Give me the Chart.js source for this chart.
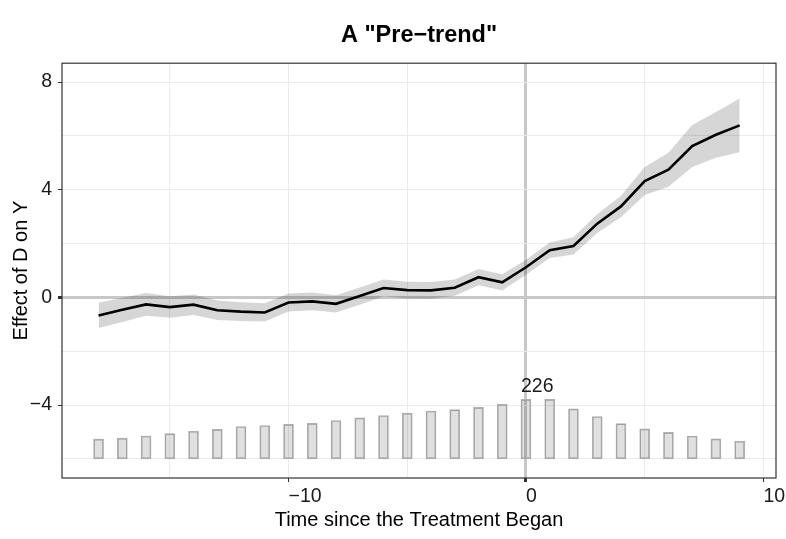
<!DOCTYPE html>
<html lang="en">
<head>
    <meta charset="UTF-8">
    <title>A "Pre-trend"</title>
    <script src="https://cdn.jsdelivr.net/npm/chart.js"></script>
    <style>
        body { margin: 0; background: #ffffff; }
        .wrap { width: 786px; height: 539px; }
    </style>
</head>
<body>
    <div class="wrap"><canvas id="trendChart" width="786" height="539"></canvas></div>
    <script>
    // time relative to treatment start
    const times = [-18, -17, -16, -15, -14, -13, -12, -11, -10, -9, -8, -7, -6, -5, -4, -3, -2, -1, 0, 1, 2, 3, 4, 5, 6, 7, 8, 9];
    // estimated effect of D on Y
    const estimate = [-0.67, -0.46, -0.26, -0.36, -0.27, -0.48, -0.53, -0.56, -0.19, -0.15, -0.24, 0.05, 0.35, 0.27, 0.26, 0.36, 0.75, 0.56, 1.12, 1.75, 1.91, 2.74, 3.38, 4.32, 4.74, 5.62, 6.04, 6.39];
    const ciLower = [-1.14, -0.91, -0.68, -0.76, -0.65, -0.84, -0.88, -0.90, -0.52, -0.48, -0.56, -0.27, 0.04, -0.04, -0.05, 0.06, 0.45, 0.26, 0.84, 1.46, 1.59, 2.39, 2.98, 3.80, 4.11, 4.84, 5.19, 5.39];
    const ciUpper = [-0.20, -0.01, 0.16, 0.04, 0.11, -0.12, -0.18, -0.22, 0.14, 0.18, 0.08, 0.37, 0.66, 0.58, 0.57, 0.66, 1.05, 0.86, 1.40, 2.04, 2.23, 3.09, 3.78, 4.84, 5.37, 6.40, 6.89, 7.39];
    // number of treated units observed at each period (histogram at the bottom)
    const counts = [75, 79, 87, 96, 105, 112, 123, 127, 131, 135, 146, 156, 165, 174, 182, 187, 196, 207, 226, 226, 190, 161, 134, 114, 101, 87, 76, 67];

    const xTickValues = [-15, -10, -5, 0, 5, 10];
    const yTickValues = [-6, -4, -2, 0, 2, 4, 6, 8];

    // histogram sits on y = -6 and the tallest bar is ~2.2 units high
    const barBase = -6;
    const barMaxHeight = 2.21;
    const maxCount = Math.max(...counts);
    const barTop = c => barBase + c / maxCount * barMaxHeight;

    const FONT = "'Liberation Sans', Arial, Helvetica, sans-serif";
    Chart.defaults.font.family = FONT;
    Chart.defaults.color = '#1a1a1a';

    const fmt = v => (v < 0 ? '\u2212' + Math.abs(v) : String(v));
    const zeroColor = '#c8c8c8';
    const gridColor = '#ebebeb';

    const panelBorder = {
        id: 'panelBorder',
        afterDraw(chart) {
            const { ctx, chartArea: a } = chart;
            ctx.save();
            ctx.strokeStyle = '#333333';
            ctx.lineWidth = 1.2;
            ctx.strokeRect(a.left, a.top, a.right - a.left, a.bottom - a.top);
            ctx.restore();
        }
    };

    const maxLabel = {
        id: 'maxLabel',
        afterDatasetsDraw(chart) {
            const idx = counts.indexOf(maxCount);
            const x = chart.scales.x.getPixelForValue(times[idx]);
            const y = chart.scales.y.getPixelForValue(barTop(maxCount));
            const ctx = chart.ctx;
            ctx.save();
            ctx.font = '19.5px ' + FONT;
            ctx.fillStyle = '#1a1a1a';
            ctx.textAlign = 'left';
            ctx.textBaseline = 'alphabetic';
            ctx.fillText(String(maxCount), x - 5, y - 7);
            ctx.restore();
        }
    };

    const ctx = document.getElementById('trendChart').getContext('2d');
    new Chart(ctx, {
        type: 'line',
        data: {
            datasets: [
                {
                    label: 'estimate',
                    data: times.map((t, i) => ({ x: t, y: estimate[i] })),
                    borderColor: '#000000',
                    borderWidth: 2.6,
                    pointRadius: 0,
                    tension: 0,
                    fill: false,
                    order: 0
                },
                {
                    label: 'upper',
                    data: times.map((t, i) => ({ x: t, y: ciUpper[i] })),
                    borderWidth: 0,
                    pointRadius: 0,
                    backgroundColor: 'rgba(0,0,0,0.16)',
                    fill: '+1',
                    order: 1
                },
                {
                    label: 'lower',
                    data: times.map((t, i) => ({ x: t, y: ciLower[i] })),
                    borderWidth: 0,
                    pointRadius: 0,
                    fill: false,
                    order: 2
                },
                {
                    type: 'bar',
                    label: 'count',
                    data: times.map((t, i) => ({ x: t, y: [barBase, barTop(counts[i])] })),
                    backgroundColor: 'rgba(0,0,0,0.12)',
                    borderColor: '#b0b0b0',
                    borderWidth: 1,
                    borderSkipped: false,
                    barThickness: 10,
                    order: 3
                }
            ]
        },
        options: {
            responsive: false,
            animation: false,
            layout: { padding: { left: 0, right: 10, top: 0, bottom: 0 } },
            plugins: {
                legend: { display: false },
                tooltip: { enabled: false },
                title: {
                    display: true,
                    text: 'A "Pre\u2212trend"',
                    fullSize: false,
                    color: '#000000',
                    font: { size: 23.5, weight: 'bold', family: FONT },
                    padding: { top: 21, bottom: 14 }
                }
            },
            scales: {
                x: {
                    type: 'linear',
                    min: -19.54, max: 10.53,
                    offset: false,
                    afterBuildTicks: s => { s.ticks = xTickValues.map(v => ({ value: v })); },
                    afterFit: s => { s.height = 61; s.paddingLeft = 0; s.paddingRight = 0; },
                    ticks: {
                        align: 'start',
                        padding: 3,
                        color: '#1a1a1a',
                        font: { size: 19.5 },
                        callback: v => (v % 10 === 0 ? fmt(v) : '')
                    },
                    grid: {
                        offset: false,
                        color: c => (c.tick && c.tick.value === 0 ? zeroColor : gridColor),
                        lineWidth: c => (c.tick && c.tick.value === 0 ? 3 : 1),
                        tickColor: c => (c.tick && c.tick.value % 10 === 0 ? '#333333' : 'rgba(0,0,0,0)'),
                        tickLength: 4
                    },
                    border: { display: false },
                    title: {
                        display: true,
                        text: 'Time since the Treatment Began',
                        color: '#000000',
                        font: { size: 20 },
                        padding: { top: 6.5, bottom: 6.5 }
                    }
                },
                y: {
                    type: 'linear',
                    min: -6.71, max: 8.70,
                    afterBuildTicks: s => { s.ticks = yTickValues.map(v => ({ value: v })); },
                    afterFit: s => { s.width = 62; },
                    ticks: {
                        padding: 6,
                        color: '#1a1a1a',
                        font: { size: 19.5 },
                        callback: v => (v % 4 === 0 ? fmt(v) : '')
                    },
                    grid: {
                        color: c => (c.tick && c.tick.value === 0 ? zeroColor : gridColor),
                        lineWidth: c => (c.tick && c.tick.value === 0 ? 3 : 1),
                        tickColor: c => (c.tick && c.tick.value % 4 === 0 ? '#333333' : 'rgba(0,0,0,0)'),
                        tickLength: 4
                    },
                    border: { display: false },
                    title: {
                        display: true,
                        text: 'Effect of D on Y',
                        color: '#000000',
                        font: { size: 20 },
                        padding: { top: 9, bottom: 9 }
                    }
                }
            }
        },
        plugins: [panelBorder, maxLabel]
    });
    </script>
</body>
</html>
